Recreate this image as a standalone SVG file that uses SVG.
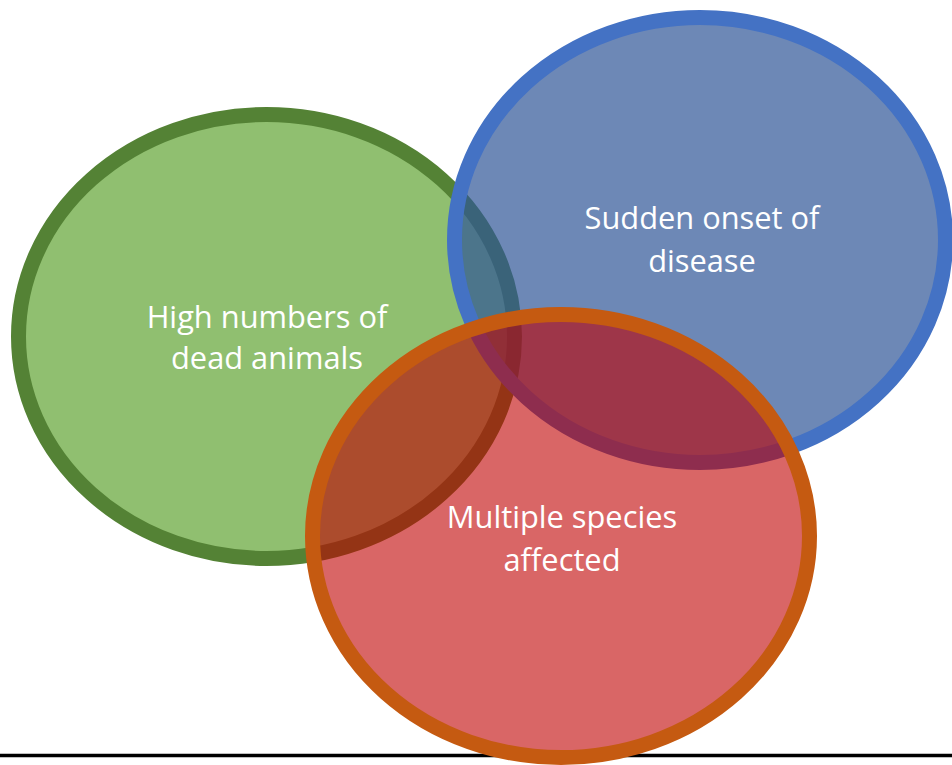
<svg xmlns="http://www.w3.org/2000/svg" width="952" height="765" viewBox="0 0 952 765">
<style>
.lbl{font-family:"Open Sans","Noto Sans","Liberation Sans",sans-serif;font-size:30.8px;fill:#ffffff;text-anchor:middle}
.c{stroke-width:15}
</style>
<rect width="952" height="765" fill="#ffffff"/>
<g id="baseline">
<line x1="0" y1="755.5" x2="952" y2="755.5" stroke="#000000" stroke-width="3.6"/>
</g>
<g id="node-dead-animals">
<ellipse class="c" cx="266.5" cy="336.5" rx="248" ry="222" fill="#90BF70" stroke="#548235"/>
<text class="lbl" x="267" y="328">High numbers of</text>
<text class="lbl" x="267" y="369">dead animals</text>
</g>
<g id="node-sudden-onset">
<ellipse class="c" cx="700" cy="240" rx="245.5" ry="222.5" fill="#2F5597" fill-opacity="0.7" stroke="#4472C4"/>
<text class="lbl" x="702" y="229">Sudden onset of</text>
<text class="lbl" x="702" y="272">disease</text>
</g>
<g id="node-multiple-species">
<ellipse class="c" cx="561" cy="536" rx="248.5" ry="221.5" fill="#C00000" fill-opacity="0.6" stroke="#C55A11"/>
<text class="lbl" x="562" y="528">Multiple species</text>
<text class="lbl" x="562" y="571">affected</text>
</g>
<g id="connectors"></g>
</svg>
